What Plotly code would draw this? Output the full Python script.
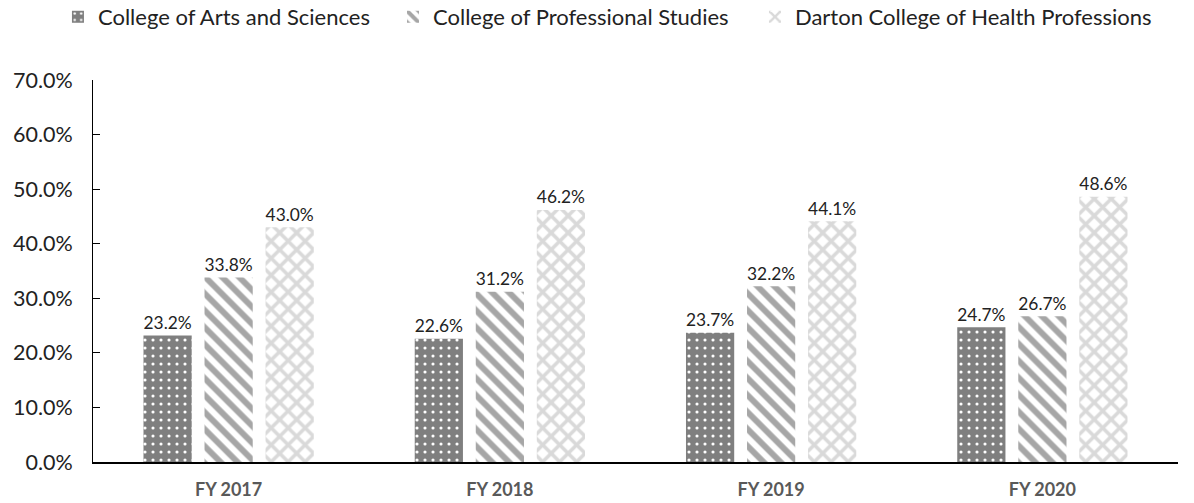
import plotly.graph_objects as go

categories = ["FY 2017", "FY 2018", "FY 2019", "FY 2020"]
series_names = ["College of Arts and Sciences", "College of Professional Studies",
                "Darton College of Health Professions"]
arts = [0.232, 0.226, 0.237, 0.247]
prof = [0.338, 0.312, 0.322, 0.267]
health = [0.430, 0.462, 0.441, 0.486]
y_ticks = [0, 0.1, 0.2, 0.3, 0.4, 0.5, 0.6, 0.7]

FONT = "Lato"
styles = [
    dict(shape=".", fgcolor="#ffffff", bgcolor="#7f7f7f", size=8, solidity=0.12),
    dict(shape="\\", fgcolor="#a6a6a6", bgcolor="#ffffff", size=12, solidity=0.5),
    dict(shape="x", fgcolor="#d9d9d9", bgcolor="#ffffff", size=12, solidity=0.5),
]
legend_ids = ["legend", "legend2", "legend3"]
legend_x = [-0.0323, 0.2765, 0.6101]

fig = go.Figure()
for name, lid, vals, st in zip(series_names, legend_ids, [arts, prof, health], styles):
    fig.add_trace(go.Bar(
        x=categories, y=vals, name=name, legend=lid,
        marker=dict(color=st["bgcolor"], line=dict(width=0),
                    pattern=dict(shape=st["shape"], fgcolor=st["fgcolor"],
                                 bgcolor=st["bgcolor"], size=st["size"],
                                 solidity=st["solidity"], fillmode="replace")),
        text=[f"{v*100:.1f}%" for v in vals], textposition="outside",
        textfont=dict(family=FONT, size=19, color="#222222"),
        cliponaxis=False,
    ))

legend_style = dict(orientation="h", xanchor="left", y=1.165, yanchor="middle",
                    font=dict(family=FONT, size=22, color="#222222"),
                    bgcolor="rgba(0,0,0,0)")

fig.update_layout(
    width=1194, height=503,
    margin=dict(l=93, r=16, t=80, b=41, autoexpand=False),
    plot_bgcolor="white", paper_bgcolor="white",
    barmode="group", bargap=0.325, bargroupgap=0.21,
    font=dict(family=FONT, size=18, color="#404040"),
    showlegend=True,
    xaxis=dict(showline=True, linecolor="#000000", linewidth=1.5, ticks="",
               automargin=False,
               tickfont=dict(family=FONT, size=18, color="#595959", weight="bold"),
               ticklabelstandoff=11),
    yaxis=dict(range=[0, 0.7], tickvals=y_ticks, tickformat=".1%", showgrid=False,
               automargin=False,
               showline=True, linecolor="#000000", linewidth=1, ticks="inside",
               ticklen=7, tickcolor="#000000", zeroline=False,
               tickfont=dict(family=FONT, size=21.5, color="#222222"),
               ticklabelstandoff=15),
)
for lid, lx in zip(legend_ids, legend_x):
    fig.update_layout({lid: dict(legend_style, x=lx)})

# remove the default page margin so the figure fills the window exactly
fig.write_html("out.html",
               config={"displayModeBar": False},
               post_script="document.body.style.margin='0';"
                           "document.body.style.overflow='hidden';")
